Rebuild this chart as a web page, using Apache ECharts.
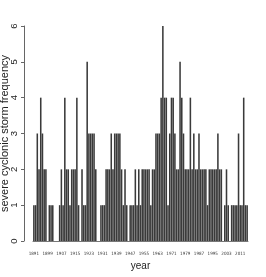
<!DOCTYPE html>
<html><head><meta charset="utf-8">
<script src="https://cdn.jsdelivr.net/npm/echarts@6/dist/echarts.min.js"></script>
<style>html,body{margin:0;padding:0;background:#fff}#c{width:266px;height:277px}</style>
</head><body><div id="c"></div><script>
const years = ['1891','1892','1893','1894','1895','1896','1897','1898','1899','1900',
'1901','1902','1903','1904','1905','1906','1907','1908','1909','1910',
'1911','1912','1913','1914','1915','1916','1917','1918','1919','1920',
'1921','1922','1923','1924','1925','1926','1927','1928','1929','1930',
'1931','1932','1933','1934','1935','1936','1937','1938','1939','1940',
'1941','1942','1943','1944','1945','1946','1947','1948','1949','1950',
'1951','1952','1953','1954','1955','1956','1957','1958','1959','1960',
'1961','1962','1963','1964','1965','1966','1967','1968','1969','1970',
'1971','1972','1973','1974','1975','1976','1977','1978','1979','1980',
'1981','1982','1983','1984','1985','1986','1987','1988','1989','1990',
'1991','1992','1993','1994','1995','1996','1997','1998','1999','2000',
'2001','2002','2003','2004','2005','2006','2007','2008','2009','2010',
'2011','2012','2013','2014','2015'];
const storms = [1,1,3,2,4,3,2,2,0,1,
1,1,0,0,0,1,2,1,4,2,
2,1,2,2,2,4,1,0,2,1,
1,5,3,3,3,3,2,0,0,1,
1,1,2,2,2,3,2,3,3,3,
3,2,1,2,1,0,1,1,1,2,
1,2,1,2,2,2,2,2,1,2,
2,3,3,3,4,6,4,4,1,3,
4,4,3,2,2,5,4,3,2,2,
2,4,2,3,2,2,3,2,2,2,
2,1,2,2,2,2,2,3,2,2,
0,1,2,1,0,1,1,1,1,3,
1,1,4,1,1];
const xTickLabels = ['1891','1899','1907','1915','1923','1931','1939','1947','1955','1963','1971','1979','1987','1995','2003','2011'];
const yMin = 0, yMax = 6, yStep = 1;

const chart = echarts.init(document.getElementById('c'), null, {renderer:'canvas'});
chart.setOption({
  animation:false,
  backgroundColor:'#fff',
  grid:{left:33,right:18,top:26,bottom:36,containLabel:false,outerBoundsMode:'none'},
  xAxis:{
    type:'category', data:years, boundaryGap:true,
    axisLine:{show:true, lineStyle:{color:'#777', width:1}},
    axisTick:{show:false},
    axisLabel:{interval:(i,v)=>xTickLabels.includes(v), fontSize:4.5,
      fontFamily:'"Liberation Sans Narrow","DejaVu Sans Condensed","Liberation Sans",sans-serif',
      color:'#333', margin:10},
    name:'year', nameLocation:'middle', nameGap:20, nameMoveOverlap:false,
    nameTextStyle:{fontSize:10, color:'#222', fontFamily:'"Liberation Sans",sans-serif'}
  },
  yAxis:{
    type:'value', min:yMin, max:yMax, interval:yStep, offset:9,
    axisLine:{show:true, lineStyle:{color:'#666', width:1}},
    axisTick:{show:true, length:3, lineStyle:{color:'#666'}},
    splitLine:{show:false},
    axisLabel:{rotate:90, fontSize:9.5, margin:5, color:'#222', fontFamily:'"Liberation Sans",sans-serif'},
    name:'severe cyclonic storm frequency', nameLocation:'middle', nameGap:14, nameMoveOverlap:false,
    nameTextStyle:{fontSize:11, color:'#222', fontFamily:'"Liberation Sans",sans-serif'}
  },
  series:[{type:'bar', data:storms, barCategoryGap:'10%', itemStyle:{color:'#3a3a3a'}}]
});
</script></body></html>
